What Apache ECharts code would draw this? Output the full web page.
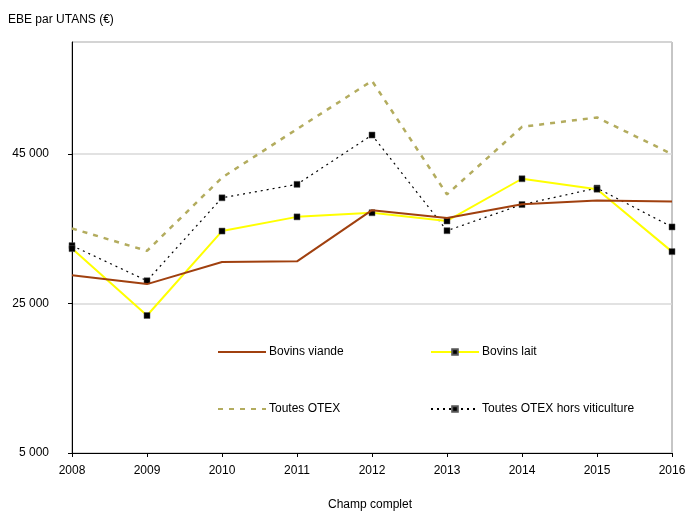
<!DOCTYPE html>
<html>
<head>
<meta charset="utf-8">
<style>
  html, body { margin: 0; padding: 0; background: #fff; }
  #chart { width: 686px; height: 513px; }
</style>
<script src="https://cdn.jsdelivr.net/npm/echarts@6/dist/echarts.min.js"></script>
</head>
<body>
<div id="chart"></div>
<script>
// Années (axe horizontal)
const years = ['2008', '2009', '2010', '2011', '2012', '2013', '2014', '2015', '2016'];

// EBE par UTANS (€) par orientation
const bovinsViande = [28800, 27600, 30550, 30650, 37500, 36450, 38300, 38800, 38650];
const bovinsLait = [32350, 23400, 34700, 36600, 37150, 36050, 41700, 40300, 31950];
const toutesOtex = [35050, 32050, 41850, 48350, 54800, 39600, 48650, 49900, 45000];
const otexHorsViti = [32750, 28050, 39150, 40950, 47550, 34750, 38250, 40450, 35250];

// Graduations de l'axe vertical
const yMin = 5000, yMax = 60000, yStep = 20000;

const FONT = '"Liberation Sans", Arial, sans-serif';
const fmt = v => String(v).replace(/\B(?=(\d{3})+(?!\d))/g, ' ');

const chart = echarts.init(document.getElementById('chart'), null, { renderer: 'canvas' });

// Une légende par entrée, placée librement dans la zone de tracé
function legendAt(name, left, top, noMarker) {
  const item = { name: name };
  if (noMarker) item.itemStyle = { opacity: 0 };
  return {
    data: [item],
    left: left, top: top,
    orient: 'horizontal',
    itemWidth: 48, itemHeight: 7, itemGap: 4,
    padding: 0,
    selectedMode: false,
    textStyle: { fontFamily: FONT, fontSize: 12, color: '#000', padding: [0, 0, 0, -2] }
  };
}

chart.setOption({
  animation: false,
  backgroundColor: '#fff',
  textStyle: { fontFamily: FONT },
  title: [
    { text: 'EBE par UTANS (€)', left: 8, top: 14, padding: 0,
      textStyle: { fontFamily: FONT, fontSize: 12, fontWeight: 'normal', color: '#000' } },
    { text: 'Champ complet', left: 370, top: 499, padding: 0, textAlign: 'center',
      textStyle: { fontFamily: FONT, fontSize: 12, fontWeight: 'normal', color: '#000' } }
  ],
  legend: [
    legendAt('Bovins viande', 217, 346, true),
    legendAt('Bovins lait', 430, 346, false),
    legendAt('Toutes OTEX', 217, 403, true),
    legendAt('Toutes OTEX hors viticulture', 430, 403, false)
  ],
  grid: {
    left: 72, right: 14, top: 42, bottom: 60,
    outerBoundsMode: 'none',
    containLabel: false,
    show: true, borderColor: '#8c8c8c', borderWidth: 1, backgroundColor: 'transparent'
  },
  xAxis: {
    type: 'category',
    data: years,
    boundaryGap: false,
    axisLine: { lineStyle: { color: '#000', width: 1 } },
    axisTick: { show: true, length: 4, inside: false, lineStyle: { color: '#000' } },
    axisLabel: { fontFamily: FONT, fontSize: 12, color: '#000', margin: 12 },
    splitLine: { show: false }
  },
  yAxis: {
    type: 'value',
    min: yMin, max: yMax, interval: yStep,
    axisLine: { show: true, lineStyle: { color: '#000', width: 1 } },
    axisTick: { show: true, length: 4, lineStyle: { color: '#000' } },
    axisLabel: { fontFamily: FONT, fontSize: 12, color: '#000', margin: 23,
      showMaxLabel: false, formatter: v => fmt(v) },
    splitLine: { show: true, lineStyle: { color: '#d9d9d9', width: 1.5 } }
  },
  series: [
    {
      name: 'Toutes OTEX', type: 'line', data: toutesOtex,
      symbol: 'none', z: 2,
      lineStyle: { color: '#b3ac5e', width: 2.5, type: [5, 6] },
      itemStyle: { color: '#b3ac5e' }
    },
    {
      name: 'Toutes OTEX hors viticulture', type: 'line', data: otexHorsViti,
      symbol: 'rect', symbolSize: 6, z: 3,
      lineStyle: { color: '#000', width: 1.2, type: [2, 4] },
      itemStyle: { color: '#000', borderColor: '#555', borderWidth: 0.5 }
    },
    {
      name: 'Bovins lait', type: 'line', data: bovinsLait,
      symbol: 'rect', symbolSize: 6, z: 4,
      lineStyle: { color: '#ffff00', width: 2 },
      itemStyle: { color: '#000', borderColor: '#555', borderWidth: 0.5 }
    },
    {
      name: 'Bovins viande', type: 'line', data: bovinsViande,
      symbol: 'none', z: 5,
      lineStyle: { color: '#a0400f', width: 2 },
      itemStyle: { color: '#a0400f' }
    }
  ]
});
</script>
</body>
</html>
